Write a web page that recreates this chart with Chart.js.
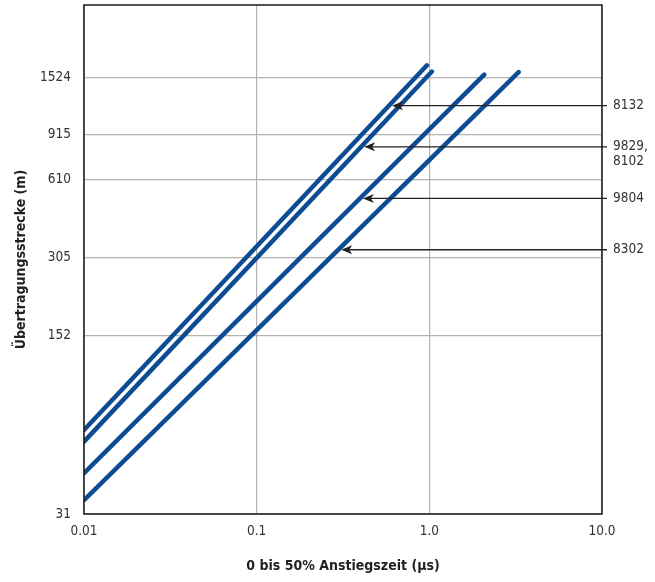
<!DOCTYPE html>
<html><head><meta charset="utf-8">
<script src="https://cdn.jsdelivr.net/npm/chart.js@4"></script>
<style>html,body{margin:0;padding:0;background:#fff}#wrap{width:655px;height:582px}</style>
</head><body><div id="wrap"><canvas id="c" width="655" height="582"></canvas></div>
<script>
const xTickValues = [0.01, 0.1, 1, 10];
const xTickLabels = ['0.01', '0.1', '1.0', '10.0'];
const yTickValues = [31, 152, 305, 610, 915, 1524];
const seriesNames = ['8132', '9829, 8102', '9804', '8302'];
const x8132 = [0.01, 0.9685];
const y8132 = [65.6, 1694];
const x9829 = [0.01, 1.035];
const y9829 = [59.1, 1602];
const x9804 = [0.01, 2.08];
const y9804 = [44.6, 1559];
const x8302 = [0.01, 3.29];
const y8302 = [35.1, 1594];
const calloutLabels = [['8132'], ['9829,', '8102'], ['9804'], ['8302']];
const calloutValues = [1182, 819, 517, 327];
const calloutSeries = [0, 1, 2, 3];

const FONT = "'DejaVu Sans Condensed', 'Liberation Sans Narrow', sans-serif";
const toPts = (xs, ys) => xs.map((x, i) => ({x: x, y: ys[i]}));
const seriesX = [x8132, x9829, x9804, x8302];
const seriesY = [y8132, y9829, y9804, y8302];

const calloutPlugin = {
  id: 'callouts',
  afterDatasetsDraw(chart) {
    const {ctx, chartArea, scales} = chart;
    ctx.save();
    ctx.strokeStyle = '#1a1a1a';
    ctx.lineWidth = 1.5;
    ctx.strokeRect(chartArea.left, chartArea.top, chartArea.right - chartArea.left, chartArea.bottom - chartArea.top);
    calloutValues.forEach((val, i) => {
      const py = scales.y.getPixelForValue(val);
      const pts = chart.getDatasetMeta(calloutSeries[i]).data;
      let px = chartArea.left;
      for (let k = 0; k < pts.length - 1; k++) {
        const a = pts[k], b = pts[k + 1];
        if ((a.y - py) * (b.y - py) <= 0) {
          const t = (py - a.y) / (b.y - a.y);
          px = a.x + t * (b.x - a.x);
          break;
        }
      }
      const tip = px + 3;
      const endX = chartArea.right + 5;
      ctx.beginPath();
      ctx.moveTo(tip + 6, py);
      ctx.lineTo(endX, py);
      ctx.lineWidth = 1.3;
      ctx.strokeStyle = '#222';
      ctx.stroke();
      ctx.beginPath();
      ctx.moveTo(tip, py);
      ctx.lineTo(tip + 11, py - 4.5);
      ctx.lineTo(tip + 8, py);
      ctx.lineTo(tip + 11, py + 4.5);
      ctx.closePath();
      ctx.fillStyle = '#222';
      ctx.fill();
      ctx.font = '13.5px ' + FONT;
      ctx.textBaseline = 'middle';
      ctx.textAlign = 'left';
      ctx.fillStyle = '#333';
      calloutLabels[i].forEach((t, j) => ctx.fillText(t, chartArea.right + 11, py + j * 15));
    });
    ctx.restore();
  }
};

new Chart(document.getElementById('c'), {
  type: 'line',
  data: {
    datasets: seriesNames.map((name, i) => ({
      label: name,
      data: toPts(seriesX[i], seriesY[i]),
      borderColor: '#0d4c92',
      backgroundColor: '#0d4c92',
      borderWidth: 4.5,
      borderCapStyle: 'round',
      borderJoinStyle: 'round',
      pointRadius: 0,
      tension: 0,
      fill: false,
      clip: 0
    }))
  },
  options: {
    responsive: false,
    animation: false,
    layout: {padding: {left: 0, right: 53, top: 5, bottom: 0}},
    plugins: {legend: {display: false}, tooltip: {enabled: false}},
    scales: {
      x: {
        type: 'logarithmic',
        min: 0.01, max: 10,
        afterBuildTicks: s => { s.ticks = xTickValues.map(v => ({value: v})); },
        afterFit: s => { s.height = 68; s.paddingLeft = 0; s.paddingRight = 0; },
        ticks: {
          callback: v => xTickLabels[xTickValues.indexOf(v)],
          padding: 9, color: '#333', autoSkip: false, maxRotation: 0,
          font: {family: FONT, size: 13.5}
        },
        grid: {color: '#b3b3b3', lineWidth: 1.2, drawTicks: false},
        border: {display: false},
        title: {display: true, text: '0 bis 50% Anstiegszeit (µs)', color: '#222',
          font: {family: FONT, size: 14, weight: 'bold'}, padding: {top: 0, bottom: 7}}
      },
      y: {
        type: 'logarithmic',
        min: 31, max: 2900,
        afterBuildTicks: s => { s.ticks = yTickValues.map(v => ({value: v})); },
        afterFit: s => { s.width = 84; s.paddingTop = 0; s.paddingBottom = 0; },
        ticks: {
          callback: v => String(v),
          padding: 13, color: '#333', autoSkip: false,
          font: {family: FONT, size: 13.5}
        },
        grid: {color: '#b3b3b3', lineWidth: 1.2, drawTicks: false},
        border: {display: false},
        title: {display: true, text: 'Übertragungsstrecke (m)', color: '#222',
          font: {family: FONT, size: 14, weight: 'bold'}, padding: {top: 13, bottom: 0}}
      }
    }
  },
  plugins: [calloutPlugin]
});
</script>
</body></html>
